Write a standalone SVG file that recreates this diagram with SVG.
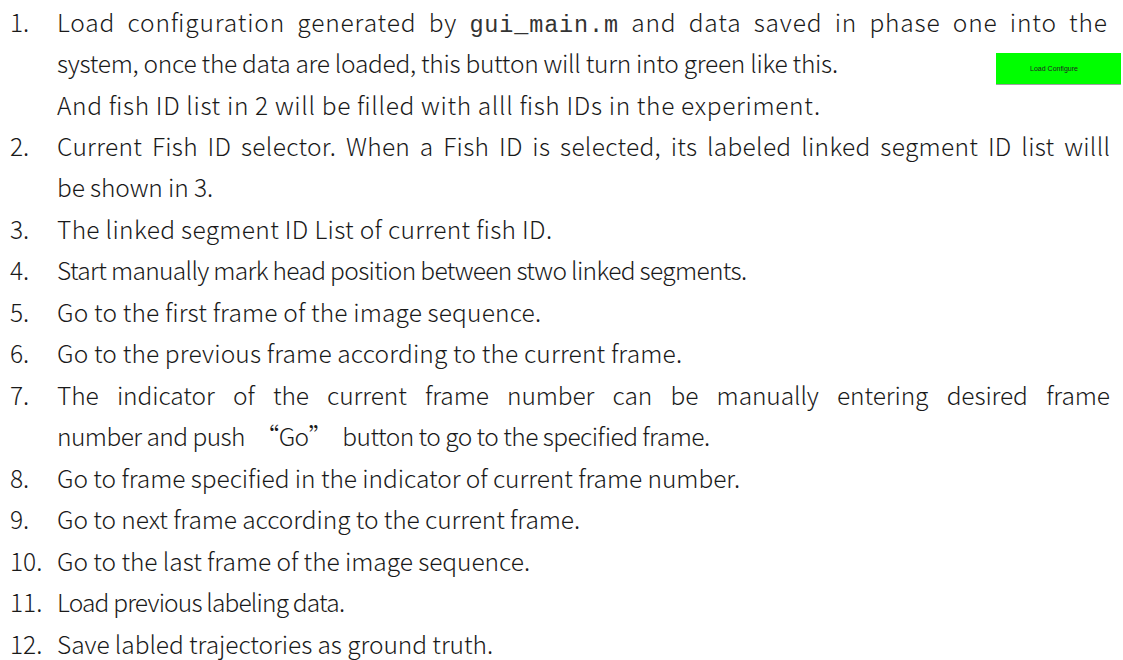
<svg xmlns="http://www.w3.org/2000/svg" width="1123" height="660" viewBox="0 0 1123 660">
  <style>
    .t { font-family: "Noto Sans CJK SC", "Noto Sans", "Liberation Sans", sans-serif; font-size: 24.5px; font-weight: 300; fill: #1a1a1a; }
    .mono { font-family: "Liberation Mono", "DejaVu Sans Mono", monospace; font-size: 23.5px; font-weight: 300; fill: #333; }
    .btnlabel { font-family: "Liberation Sans Narrow", "Liberation Sans", sans-serif; font-size: 7px; fill: #222; }
  </style>
  <rect width="1123" height="660" fill="#ffffff"/>

  <!-- item 1 -->
  <g id="item1">
    <text class="t" x="10" y="32">1.</text>
    <text class="t" x="57" y="32" word-spacing="6" textLength="1050" lengthAdjust="spacing">Load configuration generated by <tspan class="mono">gui_main.m</tspan> and data saved in phase one into the</text>
    <text class="t" x="57" y="73" textLength="781" lengthAdjust="spacing">system, once the data are loaded, this button will turn into green like this.</text>
    <text class="t" x="57" y="115" textLength="763" lengthAdjust="spacing">And fish ID list in 2 will be filled with alll fish IDs in the experiment.</text>
  </g>

  <!-- green "Load Configure" button sample -->
  <g id="load-button">
    <rect x="996" y="53" width="125" height="31" fill="#00ff00"/>
    <line x1="996" y1="84.5" x2="1121" y2="84.5" stroke="#a0a0a0" stroke-width="1"/>
    <text class="btnlabel" x="1054" y="71" text-anchor="middle">Load Configure</text>
  </g>

  <g id="item2">
    <text class="t" x="10" y="156">2.</text>
    <text class="t" x="57" y="156" word-spacing="4" textLength="1053" lengthAdjust="spacing">Current Fish ID selector. When a Fish ID is selected, its labeled linked segment ID list willl</text>
    <text class="t" x="57" y="197" textLength="156" lengthAdjust="spacing">be shown in 3.</text>
  </g>

  <g id="item3">
    <text class="t" x="10" y="239">3.</text>
    <text class="t" x="57" y="239" textLength="495" lengthAdjust="spacing">The linked segment ID List of current fish ID.</text>
  </g>

  <g id="item4">
    <text class="t" x="10" y="280">4.</text>
    <text class="t" x="57" y="280" textLength="690" lengthAdjust="spacing">Start manually mark head position between stwo linked segments.</text>
  </g>

  <g id="item5">
    <text class="t" x="10" y="322">5.</text>
    <text class="t" x="57" y="322" textLength="484" lengthAdjust="spacing">Go to the first frame of the image sequence.</text>
  </g>

  <g id="item6">
    <text class="t" x="10" y="363">6.</text>
    <text class="t" x="57" y="363" textLength="625" lengthAdjust="spacing">Go to the previous frame according to the current frame.</text>
  </g>

  <g id="item7">
    <text class="t" x="10" y="405">7.</text>
    <text class="t" x="57" y="405" word-spacing="13" textLength="1053" lengthAdjust="spacing">The indicator of the current frame number can be manually entering desired frame</text>
    <text class="t" x="57" y="446" textLength="653" lengthAdjust="spacing" xml:space="preserve">number and push  “Go”  button to go to the specified frame.</text>
  </g>

  <g id="item8">
    <text class="t" x="10" y="488">8.</text>
    <text class="t" x="57" y="488" textLength="683" lengthAdjust="spacing">Go to frame specified in the indicator of current frame number.</text>
  </g>

  <g id="item9">
    <text class="t" x="10" y="529">9.</text>
    <text class="t" x="57" y="529" textLength="523" lengthAdjust="spacing">Go to next frame according to the current frame.</text>
  </g>

  <g id="item10">
    <text class="t" x="10" y="571">10.</text>
    <text class="t" x="57" y="571" textLength="473" lengthAdjust="spacing">Go to the last frame of the image sequence.</text>
  </g>

  <g id="item11">
    <text class="t" x="10" y="612">11.</text>
    <text class="t" x="57" y="612" textLength="288" lengthAdjust="spacing">Load previous labeling data.</text>
  </g>

  <g id="item12">
    <text class="t" x="10" y="654">12.</text>
    <text class="t" x="57" y="654" textLength="436" lengthAdjust="spacing">Save labled trajectories as ground truth.</text>
  </g>
</svg>
